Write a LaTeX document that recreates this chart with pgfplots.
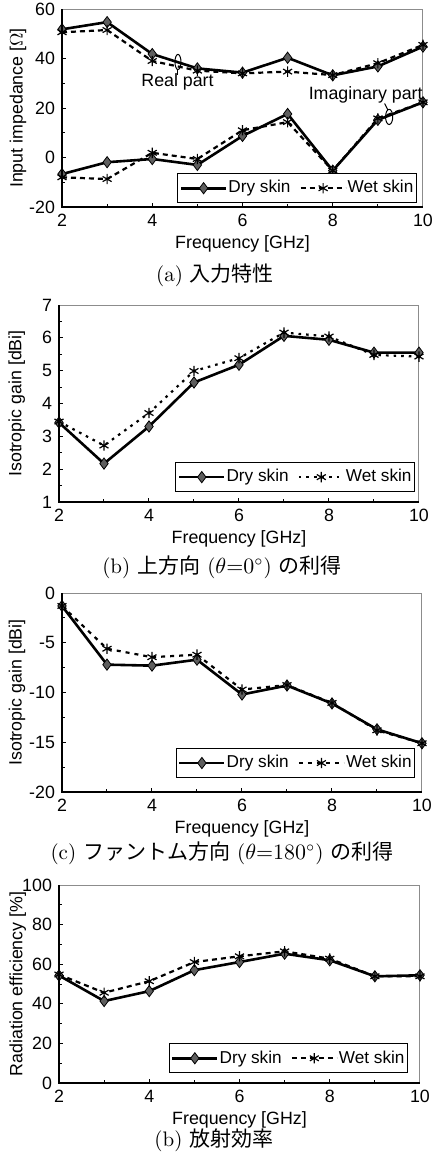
\documentclass[border=0pt]{standalone}
\usepackage{fontspec}
\usepackage{pgfplots}
\pgfplotsset{compat=1.18}
\newfontfamily\axfont{Liberation Sans}
\newfontfamily\jp{Noto Sans CJK JP}
\definecolor{mkgray}{HTML}{5E5E5E}
\definecolor{boxgray}{HTML}{8C8C8C}
\newcommand\af{\axfont\fontsize{8.9}{10}\selectfont}
\newcommand\lf{\axfont\fontsize{8.6}{10}\selectfont}
\newcommand\cf{\fontsize{10.5}{12}\selectfont}

\pgfplotsset{
  myaxis/.style={
    scale only axis,
    anchor=north west,
    xmin=2, xmax=10,
    xtick={2,4,6,8,10},
    minor x tick num=1,
    minor y tick num=1,
    tick align=inside,
    xtick pos=left, ytick pos=left,
    major tick length=2.2pt, minor tick length=1.6pt,
    every tick/.style={black, line width=0.5pt},
    axis line style={boxgray, line width=0.5pt},
    font=\af,
    ticklabel style={font=\af},
    /pgf/number format/assume math mode=true,
    xlabel={Frequency [GHz]},
    xlabel style={at={(axis description cs:0.5,-0.187)}, anchor=center},
    legend columns=2,
    legend style={draw=black, line width=0.5pt, fill=white, inner xsep=1pt, inner ysep=1.5pt,
      anchor=south east, font=\lf,
      nodes={inner xsep=0.5pt, inner ysep=1.8pt},
      /tikz/every even column/.append style={column sep=4pt}},
    legend image code/.code={\draw[mark repeat=2,mark phase=2,##1] plot coordinates {(0pt,0pt) (11.25pt,0pt) (22.5pt,0pt)};},
    after end axis/.code={\draw[black, line width=0.6pt] (rel axis cs:0,1) -- (rel axis cs:0,0) -- (rel axis cs:1,0);},
  },
  dry/.style={black, line width=1.3pt, mark=diamond*, mark size=2.8pt,
    mark options={solid, fill=mkgray, draw=black, line width=0.4pt}},
  wet/.style={black, line width=1.1pt, dash pattern=on 2.5pt off 2pt, mark=asterisk, mark size=2.6pt,
    mark options={solid, line width=0.6pt}},
}

\begin{document}
\begin{tikzpicture}
\useasboundingbox (0,0) rectangle (216.5pt,-581.5pt);

% (a)
\begin{axis}[myaxis, at={(31pt,-4.5pt)}, width=180.5pt, height=99pt,
  ymin=-20, ymax=60, ytick={-20,0,20,40,60},
  ylabel={Input impedance [$\Omega$]},
  ylabel style={at={(axis description cs:-0.122,0.5)}, anchor=center},
  legend style={at={(axis description cs:0.983,0.02)}}]
\addplot[dry] coordinates {(2,51.8)(3,54.7)(4,41.8)(5,36)(6,34.3)(7,40.3)(8,33.2)(9,36.8)(10,44.8)};
\addlegendentry{Dry skin}
\addplot[wet] coordinates {(2,50.6)(3,51.5)(4,39)(5,35.1)(6,34)(7,34.7)(8,33.3)(9,38.1)(10,45.5)};
\addlegendentry{Wet skin}
\addplot[dry, forget plot] coordinates {(2,-6.7)(3,-1.9)(4,-0.6)(5,-3)(6,8.7)(7,17.6)(8,-5.3)(9,15.2)(10,22.3)};
\addplot[wet, forget plot] coordinates {(2,-8)(3,-8.7)(4,1.9)(5,-0.6)(6,11)(7,14.3)(8,-5.3)(9,15.8)(10,22.3)};
\node[font=\af] at (axis cs:4.56,30.5) {Real part};
\node[font=\af] at (axis cs:8.73,25.3) {Imaginary part};
\draw[black, line width=0.5pt] (axis cs:4.57,38.6) ellipse [x radius=1.5pt, y radius=3.8pt];
\draw[black, line width=0.5pt] (axis cs:4.57,35.6) -- (axis cs:4.57,33.5);
\draw[black, line width=0.5pt] (axis cs:9.25,16.4) ellipse [x radius=1.8pt, y radius=3.8pt];
\draw[black, line width=0.5pt] (axis cs:9.22,19.3) -- (axis cs:9.15,21.8);
\end{axis}
\node at (107.5pt,-137.5pt) {\cf (a) {\jp 入力特性}};

% (b)
\begin{axis}[myaxis, at={(29.5pt,-152.5pt)}, width=180pt, height=98.5pt,
  ymin=1, ymax=7, ytick={1,2,3,4,5,6,7},
  ylabel={Isotropic gain [dBi]},
  ylabel style={at={(axis description cs:-0.117,0.5)}, anchor=center},
  legend style={at={(axis description cs:0.989,0.051)}}]
\addplot[dry] coordinates {(2,3.42)(3,2.17)(4,3.30)(5,4.64)(6,5.18)(7,6.06)(8,5.94)(9,5.55)(10,5.55)};
\addlegendentry{Dry skin}
\addplot[wet, dash pattern=on 1.3pt off 2.5pt] coordinates {(2,3.45)(3,2.72)(4,3.71)(5,4.99)(6,5.38)(7,6.16)(8,6.04)(9,5.48)(10,5.43)};
\addlegendentry{Wet skin}
\end{axis}
\node at (111pt,-283.5pt) {\cf (b) {\jp 上方向} ($\theta{=}0^{\circ}$) {\jp の利得}};

% (c)
\begin{axis}[myaxis, at={(31pt,-296.5pt)}, width=180pt, height=99.5pt,
  ymin=-20, ymax=0, ytick={-20,-15,-10,-5,0},
  ylabel={Isotropic gain [dBi]},
  ylabel style={at={(axis description cs:-0.125,0.5)}, anchor=center},
  legend style={at={(axis description cs:0.981,0.071)}}]
\addplot[dry] coordinates {(2,-1.3)(3,-7.2)(4,-7.3)(5,-6.7)(6,-10.2)(7,-9.3)(8,-11.1)(9,-13.7)(10,-15.1)};
\addlegendentry{Dry skin}
\addplot[wet, dash pattern=on 2pt off 2.5pt] coordinates {(2,-1.3)(3,-5.6)(4,-6.45)(5,-6.2)(6,-9.7)(7,-9.25)(8,-11.05)(9,-13.8)(10,-15.1)};
\addlegendentry{Wet skin}
\end{axis}
\node at (111pt,-426.5pt) {\cf (c) {\jp ファントム方向} ($\theta{=}180^{\circ}$) {\jp の利得}};

% (d)
\begin{axis}[myaxis, at={(29.5pt,-442.5pt)}, width=180.5pt, height=99pt,
  ymin=0, ymax=100, ytick={0,20,40,60,80,100},
  ylabel={Radiation efficiency [\%]},
  ylabel style={at={(axis description cs:-0.114,0.5)}, anchor=center},
  legend style={at={(axis description cs:0.967,0.05)}}]
\addplot[dry] coordinates {(2,54.3)(3,41.4)(4,46.4)(5,57)(6,61.1)(7,65.3)(8,62)(9,53.9)(10,54.4)};
\addlegendentry{Dry skin}
\addplot[wet] coordinates {(2,54.8)(3,45.6)(4,51.4)(5,61.1)(6,64)(7,66.5)(8,62.8)(9,53.9)(10,53.9)};
\addlegendentry{Wet skin}
\end{axis}
\node at (107pt,-570pt) {\cf (b) {\jp 放射効率}};
\end{tikzpicture}
\end{document}
